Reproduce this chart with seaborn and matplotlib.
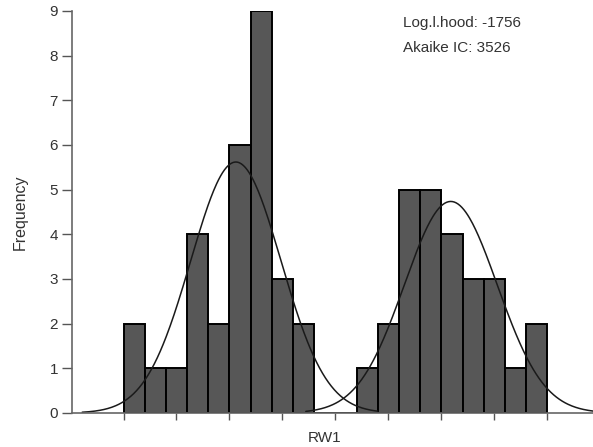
import numpy as np
import pandas as pd
import matplotlib
matplotlib.use("Agg")
import matplotlib.pyplot as plt
import seaborn as sns

# ---- data ----
bin_starts = [0, 1, 2, 3, 4, 5, 6, 7, 8,
              11, 12, 13, 14, 15, 16, 17, 18, 19]
counts = [2, 1, 1, 4, 2, 6, 9, 3, 2,
          1, 2, 5, 5, 4, 3, 3, 1, 2]
# fitted normal components: mean, sd, n (bin width = 1)
comp_means = [5.3, 15.44]
comp_sds = [2.13, 2.19]
comp_ns = [30, 26]
comp_ranges = [(-1.95, 12.0), (8.6, 22.2)]
x_ticks = [0, 2.5, 5, 7.5, 10, 12.5, 15, 17.5, 20]
y_ticks = [0, 1, 2, 3, 4, 5, 6, 7, 8, 9]
stats_text = ["Log.l.hood: -1756", "Akaike IC: 3526"]

sns.set_theme(style="ticks")
plt.rcParams["font.family"] = ["Liberation Sans", "DejaVu Sans"]

fig = plt.figure(figsize=(5.93, 4.47), dpi=100)
ax = fig.add_axes([72 / 593, 34 / 447, (593 - 72) / 593, 402 / 447])

df = pd.DataFrame({"x": np.array(bin_starts, dtype=float) + 0.5,
                   "w": np.array(counts, dtype=float)})
sns.histplot(data=df, x="x", weights="w", binwidth=1, binrange=(0, 20), ax=ax,
             color="#575757", edgecolor="black", linewidth=1.4, alpha=1.0)

curves = []
for m, s, n, (a, b) in zip(comp_means, comp_sds, comp_ns, comp_ranges):
    xs = np.linspace(a, b, 300)
    ys = n / (s * np.sqrt(2 * np.pi)) * np.exp(-0.5 * ((xs - m) / s) ** 2)
    curves.append(pd.DataFrame({"x": xs, "y": ys}))
for c in curves:
    sns.lineplot(data=c, x="x", y="y", ax=ax, color="#1a1a1a", linewidth=1.1)

ax.set_xlim(-2.43, 22.15)
ax.set_ylim(0, 9)
ax.set_xticks(x_ticks)
ax.set_xticklabels([])
ax.set_yticks(y_ticks)
ax.set_yticklabels([str(v) for v in y_ticks], fontsize=11, color="#333333")
ax.tick_params(axis="y", length=7, width=1, color="#555555", pad=3)
ax.tick_params(axis="x", length=5, width=1, color="#555555")
for side in ["top", "right"]:
    ax.spines[side].set_visible(False)
for side in ["left", "bottom"]:
    ax.spines[side].set_color("#666666")
    ax.spines[side].set_linewidth(1.2)

ax.set_xlabel("RW1", fontsize=11, color="#333333")
ax.xaxis.set_label_coords(0.484, -0.045, transform=ax.transAxes)
ax.xaxis.label.set_va("top")
ax.set_ylabel("Frequency", fontsize=11.5, color="#333333", labelpad=16)

ax.text(403 / 593, 1 - 27 / 447, stats_text[0], transform=fig.transFigure,
        fontsize=11, color="#333333", ha="left", va="baseline")
ax.text(403 / 593, 1 - 52 / 447, stats_text[1], transform=fig.transFigure,
        fontsize=11, color="#333333", ha="left", va="baseline")

fig.savefig("out.png", dpi=100)
